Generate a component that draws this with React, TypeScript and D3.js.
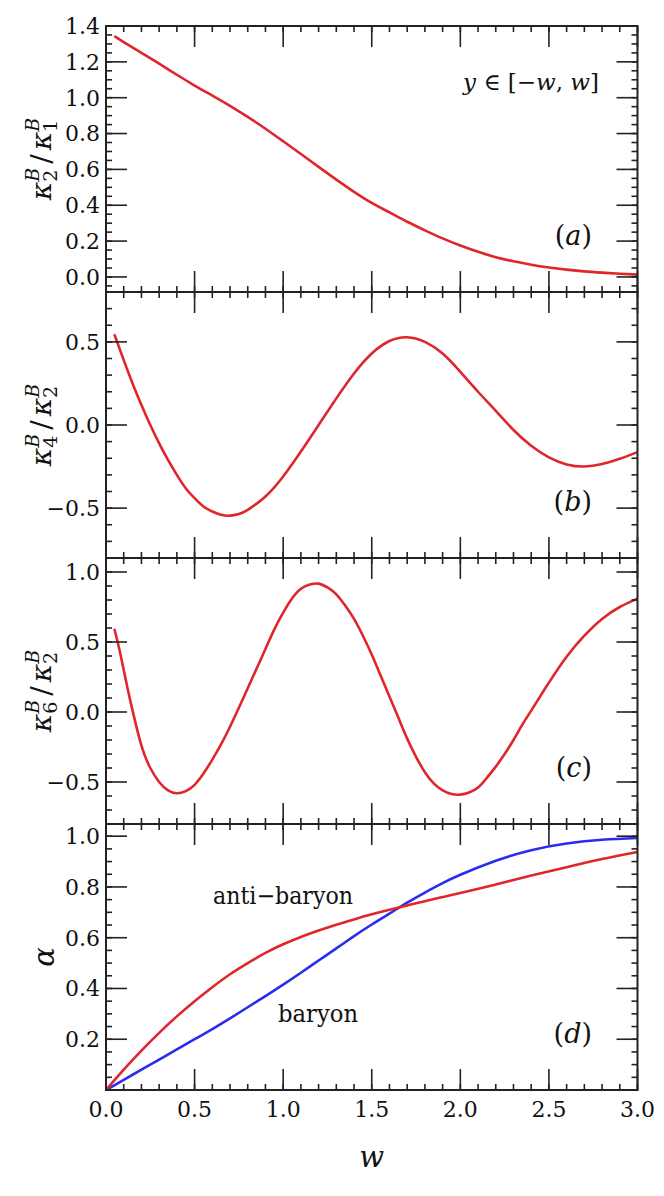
import React from "react";
import * as d3 from "d3";

// ---- data ----
const wA = [0.047, 0.1, 0.2, 0.3, 0.4, 0.5, 0.6, 0.7, 0.8, 0.9, 1.0, 1.1, 1.2, 1.3, 1.4, 1.5, 1.6, 1.7, 1.8, 1.9, 2.0, 2.1, 2.2, 2.3, 2.4, 2.5, 2.6, 2.7, 2.8, 2.9, 3.0];
const k2k1 = [1.343, 1.31, 1.25, 1.19, 1.128, 1.068, 1.012, 0.955, 0.893, 0.827, 0.757, 0.686, 0.614, 0.543, 0.475, 0.413, 0.36, 0.308, 0.26, 0.215, 0.175, 0.14, 0.11, 0.087, 0.068, 0.053, 0.041, 0.031, 0.024, 0.018, 0.013];

const wB = [0.047, 0.1, 0.15, 0.2, 0.25, 0.3, 0.35, 0.4, 0.45, 0.5, 0.55, 0.6, 0.65, 0.7, 0.75, 0.8, 0.9, 1.0, 1.1, 1.2, 1.3, 1.4, 1.5, 1.6, 1.7, 1.8, 1.9, 2.0, 2.1, 2.2, 2.3, 2.4, 2.5, 2.6, 2.7, 2.8, 2.9, 3.0];
const k4k2 = [0.546, 0.39, 0.25, 0.12, 0.0, -0.11, -0.21, -0.3, -0.38, -0.44, -0.49, -0.52, -0.54, -0.545, -0.535, -0.51, -0.43, -0.31, -0.16, 0.0, 0.16, 0.31, 0.43, 0.505, 0.528, 0.5, 0.43, 0.32, 0.2, 0.085, -0.03, -0.125, -0.195, -0.237, -0.25, -0.235, -0.203, -0.163];

const wC = [0.047, 0.075, 0.1, 0.125, 0.15, 0.2, 0.25, 0.3, 0.35, 0.4, 0.45, 0.5, 0.55, 0.6, 0.65, 0.7, 0.75, 0.8, 0.85, 0.9, 0.95, 1.0, 1.05, 1.1, 1.15, 1.2, 1.25, 1.3, 1.35, 1.4, 1.45, 1.5, 1.55, 1.6, 1.65, 1.7, 1.75, 1.8, 1.85, 1.9, 1.95, 2.0, 2.05, 2.1, 2.15, 2.2, 2.25, 2.3, 2.35, 2.4, 2.5, 2.6, 2.7, 2.8, 2.9, 3.0];
const k6k2 = [0.595, 0.45, 0.3, 0.15, 0.01, -0.24, -0.4, -0.5, -0.56, -0.58, -0.565, -0.52, -0.44, -0.34, -0.23, -0.105, 0.03, 0.17, 0.31, 0.45, 0.59, 0.71, 0.81, 0.88, 0.91, 0.917, 0.89, 0.84, 0.76, 0.665, 0.545, 0.41, 0.26, 0.11, -0.04, -0.19, -0.32, -0.43, -0.51, -0.56, -0.585, -0.59, -0.575, -0.54, -0.47, -0.39, -0.3, -0.2, -0.09, 0.01, 0.21, 0.395, 0.545, 0.665, 0.75, 0.81];

const wD = [0, 0.1, 0.2, 0.3, 0.4, 0.5, 0.6, 0.7, 0.8, 0.9, 1.0, 1.1, 1.2, 1.3, 1.4, 1.5, 1.6, 1.7, 1.8, 1.9, 2.0, 2.2, 2.4, 2.6, 2.8, 3.0];
const alphaAnti = [0, 0.08, 0.155, 0.225, 0.29, 0.35, 0.405, 0.456, 0.5, 0.54, 0.574, 0.603, 0.628, 0.651, 0.672, 0.692, 0.71, 0.727, 0.744, 0.76, 0.776, 0.81, 0.845, 0.878, 0.91, 0.938];
const alphaBaryon = [0, 0.04, 0.08, 0.12, 0.16, 0.2, 0.24, 0.282, 0.326, 0.37, 0.415, 0.462, 0.51, 0.558, 0.606, 0.652, 0.695, 0.738, 0.778, 0.815, 0.848, 0.903, 0.945, 0.971, 0.986, 0.993];

const xTickLabels = [0, 0.5, 1.0, 1.5, 2.0, 2.5, 3.0];
const yTicksA = [0, 0.2, 0.4, 0.6, 0.8, 1.0, 1.2, 1.4];
const yTicksB = [-0.5, 0, 0.5];
const yTicksC = [-0.5, 0, 0.5, 1.0];
const yTicksD = [0.2, 0.4, 0.6, 0.8, 1.0];

const RED = "#e0262b";
const BLUE = "#2a2cf0";
const INK = "#222";
const FONT = "DejaVu Serif, Liberation Serif, serif";

const left = 106;
const right = 637.5;
const top0 = 26;
const panelH = 266;

const x = d3.scaleLinear().domain([0, 3]).range([left, right]);

const fmt = (v: number) => (v < 0 ? "\u2212" : "") + Math.abs(v).toFixed(1);

type Series = { w: number[]; v: number[]; color: string };

function Panel(props: {
  idx: number;
  domain: [number, number];
  major: number[];
  majorStep: number;
  minorStep: number;
  series: Series[];
  tag: string;
}) {
  const { idx, domain, major, majorStep, minorStep, series, tag } = props;
  const t = top0 + idx * panelH;
  const b = t + panelH;
  const y = d3.scaleLinear().domain(domain).range([b, t]);
  const eps = 1e-6;
  const minorY = d3.range(Math.ceil((domain[0] - eps) / minorStep) * minorStep, domain[1] + eps, minorStep);
  const majorY = d3.range(Math.ceil((domain[0] - eps) / majorStep) * majorStep, domain[1] + eps, majorStep);
  const minorX = d3.range(0, 3.0001, 0.1);
  const majorX = d3.range(0, 3.0001, 0.5);
  const clipId = "clip" + idx;
  return (
    <g>
      <defs>
        <clipPath id={clipId}>
          <rect x={left} y={t} width={right - left} height={panelH} />
        </clipPath>
      </defs>
      <g clipPath={`url(#${clipId})`}>
        {series.map((s, k) => {
          const pts: [number, number][] = s.w.map((w, i) => [x(w), y(s.v[i])]);
          const path = d3.line().curve(d3.curveNatural)(pts) || "";
          return <path key={k} d={path} fill="none" stroke={s.color} strokeWidth={2.6} />;
        })}
      </g>
      {/* y ticks, left and right */}
      {minorY.map((v, i) => (
        <g key={"my" + i} stroke={INK} strokeWidth={1.6}>
          <line x1={left} x2={left + 6} y1={y(v)} y2={y(v)} />
          <line x1={right} x2={right - 6} y1={y(v)} y2={y(v)} />
        </g>
      ))}
      {majorY.map((v, i) => (
        <g key={"My" + i} stroke={INK} strokeWidth={1.6}>
          <line x1={left} x2={left + 21} y1={y(v)} y2={y(v)} />
          <line x1={right} x2={right - 21} y1={y(v)} y2={y(v)} />
        </g>
      ))}
      {/* x ticks, top and bottom */}
      {minorX.map((v, i) => (
        <g key={"mx" + i} stroke={INK} strokeWidth={1.6}>
          <line x1={x(v)} x2={x(v)} y1={t} y2={t + 6} />
          <line x1={x(v)} x2={x(v)} y1={b} y2={b - 6} />
        </g>
      ))}
      {majorX.map((v, i) => (
        <g key={"Mx" + i} stroke={INK} strokeWidth={1.6}>
          <line x1={x(v)} x2={x(v)} y1={t} y2={t + 21} />
          <line x1={x(v)} x2={x(v)} y1={b} y2={b - 21} />
        </g>
      ))}
      <rect x={left} y={t} width={right - left} height={panelH} fill="none" stroke={INK} strokeWidth={2} />
      {major.map((v, i) => (
        <text key={"ly" + i} x={left - 6} y={y(v)} dy="0.36em" textAnchor="end" fontSize={22} fill="#111">
          {fmt(v)}
        </text>
      ))}
      <text x={592} y={t + 219} textAnchor="end" fontSize={27} fill="#111">
        (<tspan fontStyle="italic">{tag}</tspan>)
      </text>
    </g>
  );
}

function KLabel(props: { cy: number; hi: string; lo: string }) {
  const { cy, hi, lo } = props;
  return (
    <text transform={`translate(51,${cy}) rotate(-90)`} textAnchor="middle" fontSize={28} fill="#111">
      <tspan fontStyle="italic">κ</tspan>
      <tspan fontSize={19} dy={6}>{hi}</tspan>
      <tspan fontSize={19} fontStyle="italic" dx={-12} dy={-18}>B</tspan>
      <tspan dx={4} dy={12}>/</tspan>
      <tspan dx={4} fontStyle="italic">κ</tspan>
      <tspan fontSize={19} dy={6}>{lo}</tspan>
      <tspan fontSize={19} fontStyle="italic" dx={-12} dy={-18}>B</tspan>
    </text>
  );
}

export default function App() {
  const bottom = top0 + 4 * panelH;
  return (
    <div style={{ position: "absolute", left: 0, top: 0 }}>
      <svg width={664} height={1196} fontFamily={FONT} style={{ display: "block", background: "#fff" }}>
        <Panel idx={0} domain={[-0.084, 1.4]} major={yTicksA} majorStep={0.2} minorStep={0.05}
          series={[{ w: wA, v: k2k1, color: RED }]} tag="a" />
        <Panel idx={1} domain={[-0.8, 0.8]} major={yTicksB} majorStep={0.5} minorStep={0.1}
          series={[{ w: wB, v: k4k2, color: RED }]} tag="b" />
        <Panel idx={2} domain={[-0.8, 1.1]} major={yTicksC} majorStep={0.5} minorStep={0.1}
          series={[{ w: wC, v: k6k2, color: RED }]} tag="c" />
        <Panel idx={3} domain={[0, 1.048]} major={yTicksD} majorStep={0.2} minorStep={0.05}
          series={[{ w: wD, v: alphaBaryon, color: BLUE }, { w: wD, v: alphaAnti, color: RED }]} tag="d" />

        {xTickLabels.map((v, i) => (
          <text key={i} x={x(v)} y={bottom + 27} textAnchor="middle" fontSize={22} fill="#111">
            {v.toFixed(1)}
          </text>
        ))}
        <text x={x(1.5)} y={1167} textAnchor="middle" fontSize={29} fontStyle="italic" fill="#111">w</text>

        <KLabel cy={top0 + panelH * 0.5} hi="2" lo="1" />
        <KLabel cy={top0 + panelH * 1.5} hi="4" lo="2" />
        <KLabel cy={top0 + panelH * 2.5} hi="6" lo="2" />
        <text transform={`translate(54,${top0 + panelH * 3.5}) rotate(-90)`} textAnchor="middle" fontSize={29}
          fontStyle="italic" fill="#111">α</text>

        <text x={599} y={90} textAnchor="end" fontSize={23} fill="#111">
          <tspan fontStyle="italic">y</tspan>
          <tspan>{" \u2208 [\u2212"}</tspan>
          <tspan fontStyle="italic">w</tspan>
          <tspan>{", "}</tspan>
          <tspan fontStyle="italic">w</tspan>
          <tspan>{"]"}</tspan>
        </text>
        <text x={213} y={904} fontSize={24} textLength={140} lengthAdjust="spacingAndGlyphs" fill="#111">
          {"anti\u2212baryon"}
        </text>
        <text x={278} y={1022} fontSize={24} textLength={80} lengthAdjust="spacingAndGlyphs" fill="#111">
          {"baryon"}
        </text>
      </svg>
    </div>
  );
}
